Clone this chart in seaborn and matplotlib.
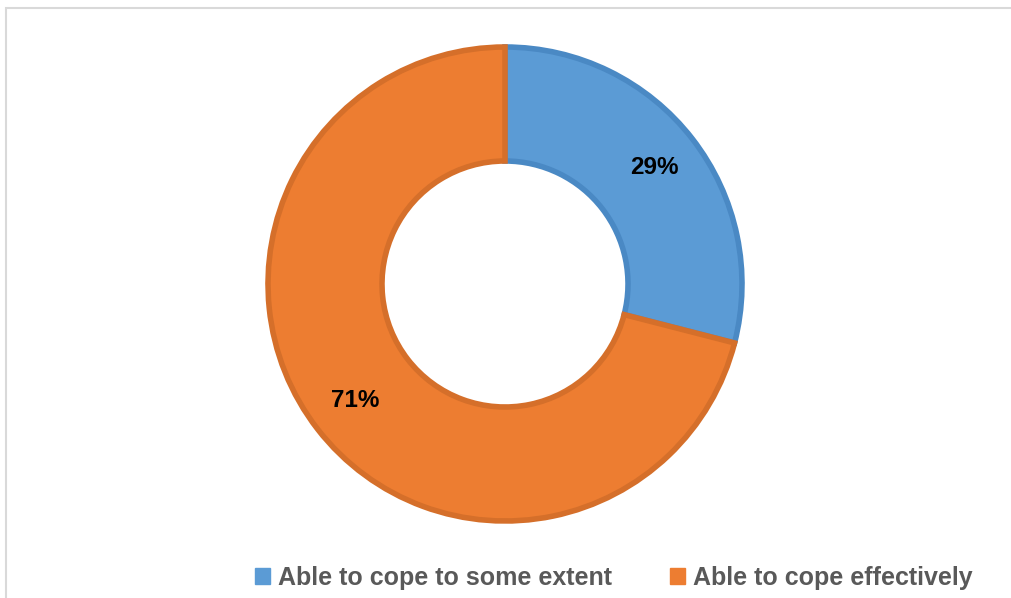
import matplotlib
matplotlib.use("Agg")
import matplotlib.pyplot as plt
import seaborn as sns
from matplotlib.patches import Rectangle, Patch

categories = ["Able to cope to some extent", "Able to cope effectively"]
values = [29, 71]
colors = ["#5B9BD5", "#ED7D31"]
edge_colors = ["#4A89C4", "#D56F2A"]

sns.set_theme(style="white")
plt.rcParams['font.family'] = ['Liberation Sans', 'DejaVu Sans']

W, H = 1012, 598
fig = plt.figure(figsize=(W / 100, H / 100), dpi=100)
fig.patch.set_facecolor("white")

# outer frame (cut off at right/bottom)
fig.add_artist(Rectangle((6 / W, -0.1), 1.2, (H - 8) / H + 0.1, transform=fig.transFigure,
                         fill=False, edgecolor="#D9D9D9", linewidth=1.5))

cx, cy, R = 505, H - 284, 240
ax = fig.add_axes([(cx - R) / W, (cy - R) / H, 2 * R / W, 2 * R / H])

r = 1 - 3 / 240
wedges, texts, autotexts = ax.pie(
    values, colors=colors, startangle=90, counterclock=False, radius=r,
    autopct=lambda p: f"{p:.0f}%", pctdistance=0.79 / r,
    wedgeprops=dict(width=0.5 - 6 / 240, linewidth=4),
    textprops=dict(fontsize=17.5, fontweight="bold", color="black"))
for w, ec in zip(wedges, edge_colors):
    w.set_edgecolor(ec)
    w.set_joinstyle("miter")
ax.set_xlim(-1, 1)
ax.set_ylim(-1, 1)
ax.axis("off")

handles = [Patch(facecolor=c, edgecolor=c) for c in colors]
fig.legend(handles, categories, loc="center", bbox_to_anchor=(614 / W, 20 / H),
           ncol=2, frameon=False, handlelength=0.6, handleheight=0.6,
           handletextpad=0.32, columnspacing=2.3,
           prop=dict(weight="bold", size=18), labelcolor="#595959")

fig.savefig("out.png", dpi=100)
